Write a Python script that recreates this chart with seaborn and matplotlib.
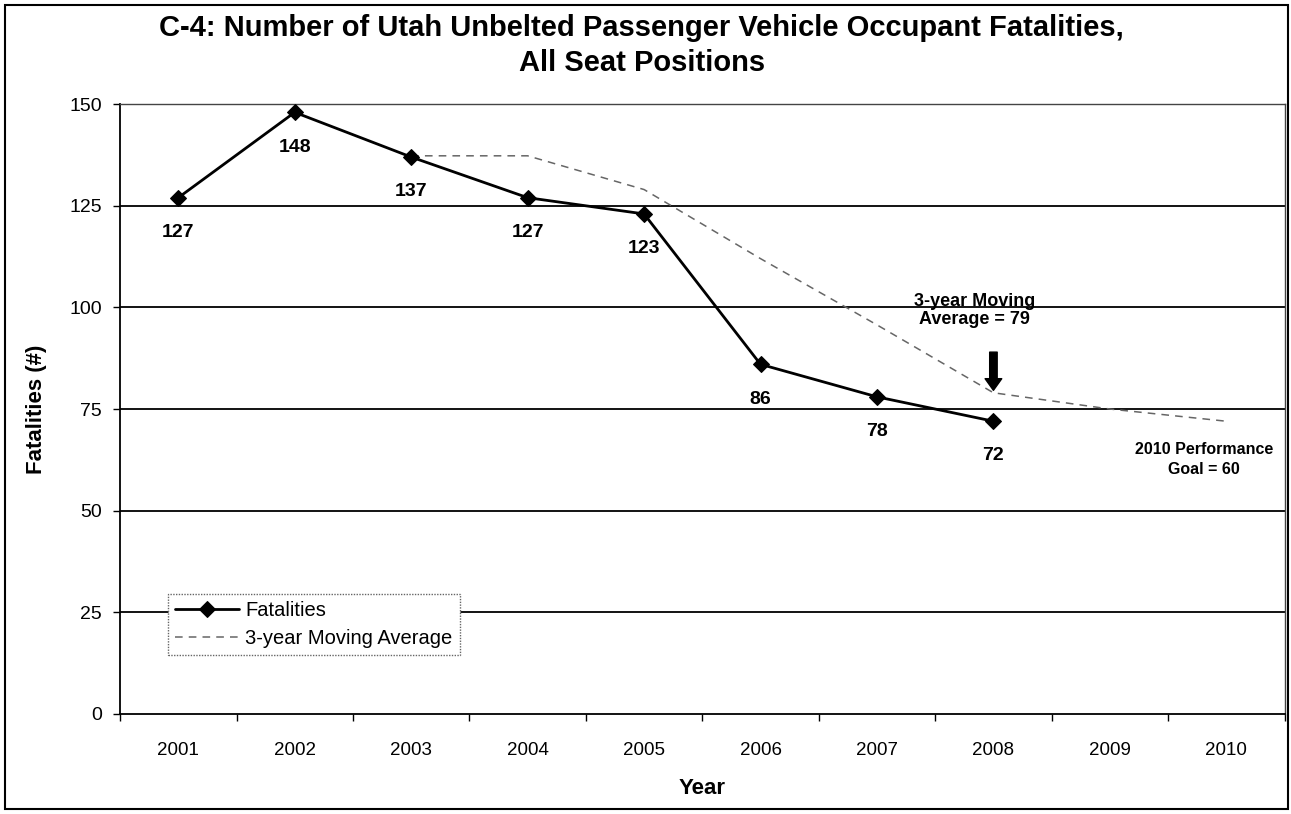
import matplotlib
matplotlib.use("Agg")
import matplotlib.pyplot as plt
import seaborn as sns
import pandas as pd
from matplotlib.patches import Rectangle

sns.set_theme(style="white")
plt.rcParams['font.family'] = ['Liberation Sans', 'DejaVu Sans']
plt.rcParams['text.color'] = 'black'
plt.rcParams['axes.labelcolor'] = 'black'
plt.rcParams['xtick.color'] = 'black'
plt.rcParams['ytick.color'] = 'black'

years = [2001, 2002, 2003, 2004, 2005, 2006, 2007, 2008, 2009, 2010]
fatal_years = [2001, 2002, 2003, 2004, 2005, 2006, 2007, 2008]
fatalities = [127, 148, 137, 127, 123, 86, 78, 72]
ma_years = [2003, 2004, 2005, 2006, 2007, 2008, 2009, 2010]
moving_avg = [137.3, 137.3, 129, 112, 95.7, 79, 75, 72]
y_ticks = [0, 25, 50, 75, 100, 125, 150]

df = pd.DataFrame({'year': fatal_years, 'value': fatalities})
df_ma = pd.DataFrame({'year': ma_years, 'value': moving_avg})

fig = plt.figure(figsize=(12.91, 8.14), dpi=100)
ax = fig.add_axes([0.093, 0.123, 0.902, 0.749])

# gridlines first so the lines sit on top
for v in y_ticks[1:]:
    ax.axhline(v, color='black', linewidth=1.3, zorder=1)

sns.lineplot(data=df_ma, x='year', y='value', ax=ax, color='#666666',
             linewidth=1.1, dashes=False, linestyle=(0, (5, 4)),
             label='3-year Moving Average', zorder=2)
sns.lineplot(data=df, x='year', y='value', ax=ax, color='black',
             linewidth=2, marker='D', markersize=8, markeredgecolor='black',
             label='Fatalities', zorder=3)

# data labels under the points
for x, v in zip(fatal_years, fatalities):
    ax.annotate(str(v), (x, v), xytext=(0, -25), textcoords='offset points',
                ha='center', va='center', fontsize=14, fontweight='bold')

ax.set_xlim(2000.5, 2010.5)
ax.set_ylim(0, 150)
ax.set_yticks(y_ticks)
ax.set_xticks(years)
ax.set_xticks([y + 0.5 for y in [2000] + years], minor=True)
ax.tick_params(axis='x', which='major', length=0, pad=20, labelsize=13.5)
ax.tick_params(axis='x', which='minor', length=5, width=1, color='black',
               direction='out', bottom=True)
ax.tick_params(axis='y', length=5, width=1, color='black', direction='out',
               left=True, pad=8, labelsize=14)

ax.set_xlabel('Year', fontsize=16, fontweight='bold', labelpad=14)
ax.set_ylabel('Fatalities (#)', fontsize=16, fontweight='bold', labelpad=16)

for side in ['left', 'bottom']:
    ax.spines[side].set_color('black')
    ax.spines[side].set_linewidth(1.3)
for side in ['top', 'right']:
    ax.spines[side].set_color('#444444')
    ax.spines[side].set_linewidth(1)

handles, labels = ax.get_legend_handles_labels()
leg = ax.legend(handles=handles[::-1], labels=labels[::-1],
                loc='lower left', bbox_to_anchor=(0.041, 0.097), borderaxespad=0,
                fontsize=14.5, frameon=True, fancybox=False, framealpha=1,
                handlelength=3.2, borderpad=0.35, labelspacing=0.45,
                handletextpad=0.3)
leg.get_frame().set_edgecolor('#666666')
leg.get_frame().set_linestyle((0, (1, 1)))
leg.get_frame().set_linewidth(1)
leg.set_zorder(5)

# annotation for the 2008 moving average
ax.text(2007.84, 99.3, '3-year Moving\nAverage = 79', ha='center', va='center',
        fontsize=13, fontweight='bold', linespacing=1.05)
ax.annotate('', xy=(2008, 79.6), xytext=(2008, 89),
            arrowprops=dict(arrowstyle='simple,head_length=0.7,head_width=1.0,tail_width=0.45',
                            color='black', shrinkA=0, shrinkB=0))
ax.text(2009.81, 62.5, '2010 Performance\nGoal = 60', ha='center', va='center',
        fontsize=11.5, fontweight='bold', linespacing=1.4)

fig.text(0.497, 0.944, 'C-4: Number of Utah Unbelted Passenger Vehicle Occupant Fatalities,\nAll Seat Positions',
         ha='center', va='center', fontsize=21, fontweight='bold',
         linespacing=1.3)

fig.patches.append(Rectangle((0.004, 0.006), 0.994, 0.988, transform=fig.transFigure,
                             fill=False, edgecolor='black', linewidth=1.5))

fig.savefig('out.png', dpi=100)
